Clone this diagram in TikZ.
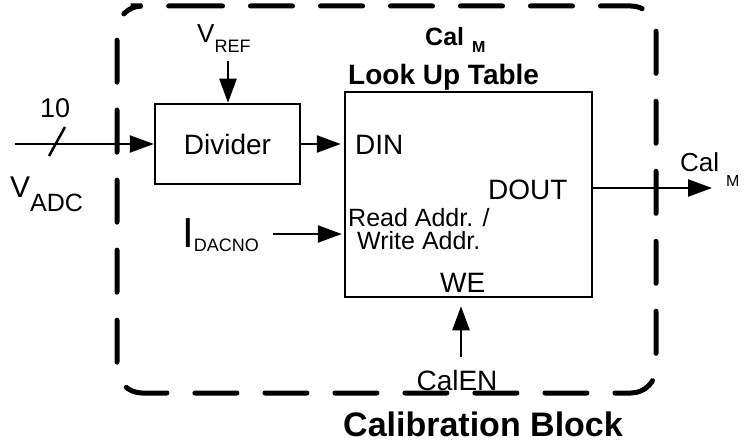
\documentclass[tikz,border=0pt]{standalone}
\usepackage{fontspec}
\setmainfont{Liberation Sans}
\usetikzlibrary{arrows.meta}
\newcommand{\sigsub}[5]{{\fontsize{#1}{#1}\selectfont #2}\raisebox{-#5pt}{\fontsize{#3}{#3}\selectfont #4}}

\begin{document}
\begin{tikzpicture}[x=1pt,y=-1pt,
  blk/.style={draw,line width=2.5pt,inner sep=0pt},
  sig/.style={line width=2.5pt,-{Triangle[length=24pt,width=17pt]}},
  lbl/.style={inner sep=0pt,anchor=base west},
  fs/.style={font=\fontsize{#1}{#1}\selectfont}]
\useasboundingbox (0,0) rectangle (744,446);
% Calibration block border
\draw[line width=5pt,line cap=round,dash pattern=on 42pt off 28pt,rounded corners=25pt]
  (155.5,6) -- (656,6) -- (656,393) -- (117,393) -- (117,6) -- cycle;
% Blocks
\node[blk,minimum width=145pt,minimum height=80pt,fs=28] (div) at (227.5,144) {Divider};
\node[blk,minimum width=247pt,minimum height=205pt] (lut) at (468.5,194.5) {};
% Ports
\node[lbl,fs=28] (din) at (355,155) {DIN};
\node[lbl,fs=28] (dout) at (488,200) {DOUT};
\node[lbl,fs=25] (raddr) at (348,227) {Read Addr. /};
\node[lbl,fs=25] (waddr) at (357,250) {Write Addr.};
\node[lbl,fs=28] (we) at (440,292) {WE};
% Titles
\node[lbl,font=\bfseries] (lutcal) at (425,46) {\sigsub{25}{Cal}{16}{\hspace{8pt}M}{7}};
\node[lbl,font=\fontsize{28}{28}\selectfont\bfseries] (luttitle) at (348,85) {Look Up Table};
\node[inner sep=0pt,anchor=base,font=\fontsize{34}{34}\selectfont\bfseries] (caltitle) at (483,436) {Calibration Block};
% Signals
\coordinate (adc) at (15,144);
\coordinate (vref) at (228,61);
\coordinate (idac) at (273,234);
\coordinate (calout) at (712,188);
\coordinate (calen) at (461,357);
\node[lbl] (vadc) at (10,198) {\sigsub{30}{V}{25}{ADC}{14}};
\node[lbl,fs=27] (bus) at (40,118) {10};
\node[lbl] (vreflbl) at (197,43) {\sigsub{26}{V}{18}{REF}{10}};
\node[lbl] (idaclbl) at (182,248) {\sigsub{42}{I}{18}{DACNO}{4}};
\node[lbl] (calm) at (680,172) {\sigsub{26}{Cal}{16}{\hspace{7pt}M}{15}};
\node[inner sep=0pt,anchor=base,fs=28] (calenlbl) at (457,390) {CalEN};
% Arrows
\draw[sig] (adc) -- (adc -| div.west);
\draw[line width=2.5pt] (49,156) -- (65,127);
\draw[sig] (vref) -- (vref |- div.north);
\draw[sig,shorten >=3pt] (div.east) -- (div.east -| lut.west);
\draw[sig,shorten >=2pt] (idac) -- (idac -| lut.west);
\draw[sig] (calout -| lut.east) -- (calout);
\draw[sig,shorten >=8pt] (calen) -- (calen |- lut.south);
\end{tikzpicture}
\end{document}
